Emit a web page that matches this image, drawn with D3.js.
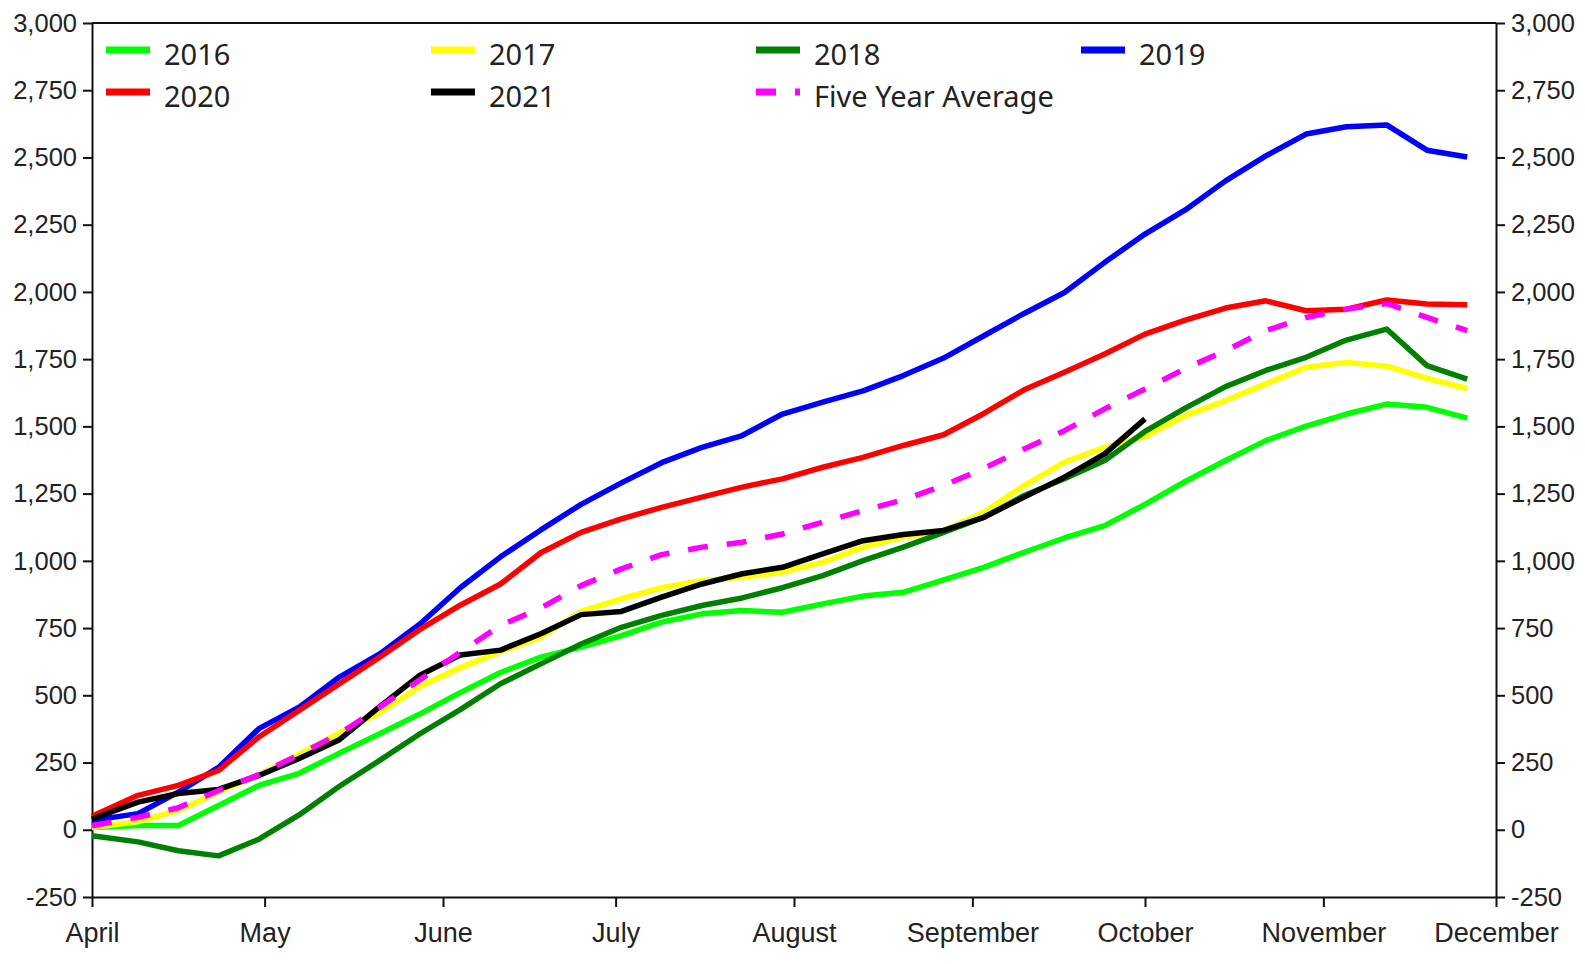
<!DOCTYPE html>
<html>
<head>
<meta charset="utf-8">
<script src="https://cdn.jsdelivr.net/npm/d3@7"></script>
<style>
    html, body { margin: 0; padding: 0; background: #fff; }
    svg { display: block; font-family: "Noto Sans", "Open Sans", sans-serif; }
    .axis text { fill: #222; }
    .axis path, .axis line { stroke: #111; stroke-width: 2; }
</style>
</head>
<body>
<div id="chart"></div>
<script>
// Days since April 1 for each weekly point
const weekDays = [0, 8, 15, 22, 29, 36, 43, 50, 57, 64, 71, 78, 85, 92, 99, 106, 113, 120, 127,
    134, 141, 148, 155, 162, 169, 176, 183, 190, 197, 204, 211, 218, 225, 232, 239];

const monthDays = [0, 30, 61, 91, 122, 153, 183, 214, 244];
const monthNames = ['April', 'May', 'June', 'July', 'August', 'September', 'October', 'November', 'December'];
const yTicks = [-250, 0, 250, 500, 750, 1000, 1250, 1500, 1750, 2000, 2250, 2500, 2750, 3000];

const y2016 = [8, 16, 16, 90, 165, 210, 285, 357, 431, 510, 585, 642, 679, 722, 772, 803, 815, 809,
    840, 869, 883, 929, 976, 1032, 1085, 1131, 1210, 1295, 1373, 1447, 1501, 1546, 1583, 1571, 1531];
const y2017 = [8, 30, 72, 140, 205, 280, 360, 435, 533, 603, 662, 716, 812, 859, 900, 927, 939, 958,
    995, 1051, 1088, 1113, 1181, 1280, 1367, 1422, 1462, 1540, 1596, 1658, 1720, 1738, 1724, 1679, 1641];
const y2018 = [-22, -45, -78, -97, -35, 55, 162, 258, 357, 447, 543, 617, 691, 753, 797, 834, 862, 900,
    945, 1001, 1051, 1106, 1162, 1243, 1305, 1373, 1481, 1568, 1648, 1708, 1757, 1821, 1862, 1726, 1676];
const y2019 = [35, 60, 140, 232, 376, 456, 568, 654, 765, 900, 1015, 1115, 1210, 1290, 1365, 1422, 1466, 1546,
    1590, 1632, 1689, 1754, 1837, 1920, 1998, 2110, 2215, 2305, 2413, 2506, 2587, 2614, 2621, 2527, 2502];
const y2020 = [50, 128, 165, 221, 345, 444, 543, 642, 745, 835, 914, 1030, 1106, 1156, 1199, 1237, 1274, 1305,
    1348, 1385, 1429, 1469, 1548, 1636, 1701, 1769, 1843, 1895, 1940, 1967, 1930, 1936, 1970, 1955, 1952];
const y2021 = [40, 103, 135, 150, 202, 265, 335, 458, 575, 650, 668, 729, 800, 812, 865, 914, 952, 976,
    1026, 1075, 1098, 1113, 1162, 1237, 1311, 1398, 1528];
const yAverage = [15, 46, 82, 146, 205, 280, 357, 456, 558, 660, 760, 825, 908, 970, 1023, 1051, 1069, 1100,
    1144, 1187, 1227, 1280, 1344, 1416, 1484, 1565, 1639, 1715, 1782, 1856, 1905, 1936, 1957, 1905, 1856];

const seriesNames = ['2016', '2017', '2018', '2019', '2020', '2021', 'Five Year Average'];
const seriesValues = [y2016, y2017, y2018, y2019, y2020, y2021, yAverage];
const seriesColors = ['#00ff00', '#ffff00', '#008000', '#0000ff', '#ff0000', '#000000', '#ff00ff'];

const width = 1585;
const height = 964;
const margin = { top: 23, right: 89, bottom: 67, left: 92 };

const svg = d3.select('#chart')
    .append('svg')
    .attr('width', width)
    .attr('height', height);

const x = d3.scaleLinear()
    .domain([0, 244])
    .range([margin.left, width - margin.right]);

const y = d3.scaleLinear()
    .domain([-250, 3000])
    .range([height - margin.bottom, margin.top]);

const fmt = d => d3.format(',')(d).replace('\u2212', '-');

// Top border
svg.append('line')
    .attr('x1', x(0)).attr('x2', x(244))
    .attr('y1', y(3000)).attr('y2', y(3000))
    .attr('stroke', '#111').attr('stroke-width', 2);

// Axes
const xAxis = svg.append('g')
    .attr('class', 'axis')
    .attr('transform', `translate(0,${y(-250)})`)
    .call(d3.axisBottom(x).tickValues(monthDays).tickFormat((d, i) => monthNames[i]).tickSize(10).tickSizeOuter(0).tickPadding(16));
xAxis.selectAll('text').style('font-size', '27px');

const yAxisLeft = svg.append('g')
    .attr('class', 'axis')
    .attr('transform', `translate(${x(0)},0)`)
    .call(d3.axisLeft(y).tickValues(yTicks).tickFormat(fmt).tickSize(9).tickSizeOuter(0).tickPadding(6));
yAxisLeft.selectAll('text').style('font-size', '25.5px');

const yAxisRight = svg.append('g')
    .attr('class', 'axis')
    .attr('transform', `translate(${x(244)},0)`)
    .call(d3.axisRight(y).tickValues(yTicks).tickFormat(fmt).tickSize(9).tickSizeOuter(0).tickPadding(6));
yAxisRight.selectAll('text').style('font-size', '25.5px');

// Lines
const line = d3.line()
    .x((d, i) => x(weekDays[i]))
    .y(d => y(d));

seriesValues.forEach((vals, s) => {
    svg.append('path')
        .datum(vals)
        .attr('fill', 'none')
        .attr('stroke', seriesColors[s])
        .attr('stroke-width', 5.5)
        .attr('stroke-linejoin', 'round')
        .attr('stroke-dasharray', seriesNames[s] === 'Five Year Average' ? '20,19' : null)
        .attr('d', line);
});

// Legend: 4 columns, 2 rows
const legend = svg.append('g');
seriesNames.forEach((name, i) => {
    const col = i % 4;
    const row = Math.floor(i / 4);
    const g = legend.append('g')
        .attr('transform', `translate(${106 + col * 325},${50 + row * 42})`);
    g.append('line')
        .attr('x1', 0).attr('x2', 44)
        .attr('y1', 0).attr('y2', 0)
        .attr('stroke', seriesColors[i])
        .attr('stroke-width', 7)
        .attr('stroke-dasharray', name === 'Five Year Average' ? '20,19' : null);
    g.append('text')
        .attr('x', 58)
        .attr('y', 15)
        .attr('fill', '#222')
        .style('font-size', '29px')
        .text(name);
});
</script>
</body>
</html>
